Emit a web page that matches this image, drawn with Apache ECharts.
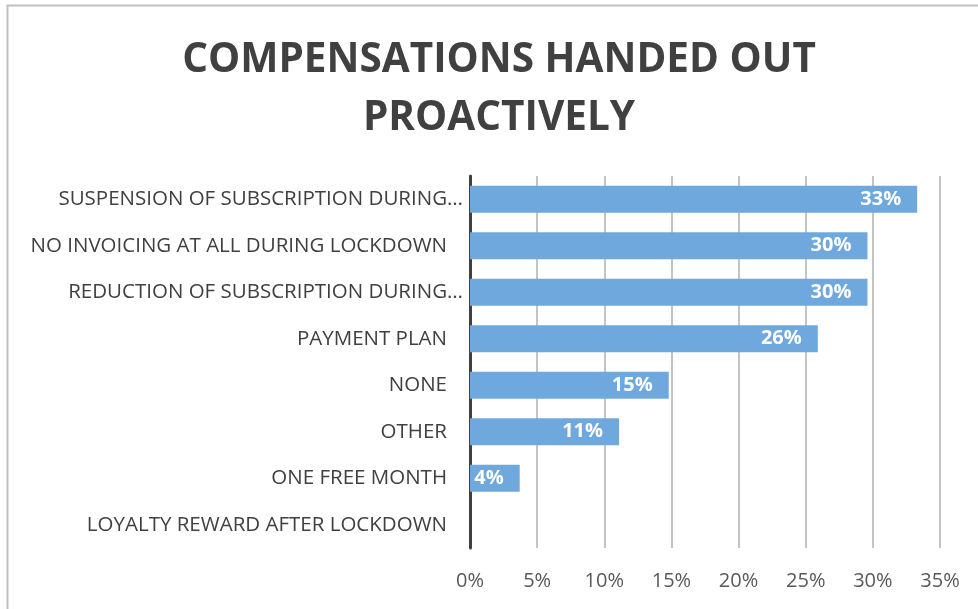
<!DOCTYPE html>
<html>
<head>
<meta charset="utf-8">
<script src="https://cdn.jsdelivr.net/npm/echarts@6/dist/echarts.min.js"></script>
<style>
  html, body { margin: 0; padding: 0; background: #fff; }
  #chart { width: 978px; height: 609px; }
</style>
</head>
<body>
<div id="chart"></div>
<script>
// Compensation types, top to bottom
const categories = [
  'SUSPENSION OF SUBSCRIPTION DURING…',
  'NO INVOICING AT ALL DURING LOCKDOWN',
  'REDUCTION OF SUBSCRIPTION DURING…',
  'PAYMENT PLAN',
  'NONE',
  'OTHER',
  'ONE FREE MONTH',
  'LOYALTY REWARD AFTER LOCKDOWN'
];
// Share of respondents (fraction)
const shares = [0.333, 0.296, 0.296, 0.259, 0.148, 0.111, 0.037, 0];
// X axis scale
const axisMin = 0;
const axisMax = 0.35;
const axisStep = 0.05;

const FONT = '"Open Sans", "Noto Sans", sans-serif';
const chart = echarts.init(document.getElementById('chart'), null, { renderer: 'canvas' });

chart.setOption({
  animation: false,
  backgroundColor: '#ffffff',
  title: {
    text: 'COMPENSATIONS HANDED OUT\nPROACTIVELY',
    left: 494,
    textAlign: 'center',
    top: 26,
    textStyle: {
      fontFamily: FONT,
      fontSize: 40.5,
      fontWeight: 'bold',
      color: '#404040',
      lineHeight: 58
    }
  },
  graphic: [{
    type: 'rect',
    shape: { x: 7.5, y: 5.5, width: 1000, height: 700 },
    style: { fill: 'none', stroke: '#bfbfbf', lineWidth: 2 },
    silent: true
  }],
  grid: { left: 470, right: 38, top: 176, bottom: 61 },
  xAxis: {
    type: 'value',
    min: axisMin,
    max: axisMax,
    interval: axisStep,
    axisLine: { show: false },
    axisTick: { show: false },
    splitLine: { show: true, lineStyle: { color: '#c4c4c4', width: 2 } },
    axisLabel: {
      margin: 23,
      fontFamily: FONT,
      fontSize: 20,
      color: '#595959',
      formatter: v => Math.round(v * 100) + '%'
    }
  },
  yAxis: {
    type: 'category',
    inverse: true,
    data: categories,
    axisLine: { show: true, lineStyle: { color: '#404040', width: 3 } },
    axisTick: { show: false },
    splitLine: { show: false },
    axisLabel: {
      margin: 7,
      formatter: v => v.endsWith('…') ? '{e|' + v + '}' : '{n|' + v + '}',
      rich: {
        e: { fontFamily: FONT, fontSize: 20.5, color: '#404040' },
        n: { fontFamily: FONT, fontSize: 20.5, color: '#404040', padding: [0, 16, 0, 0] }
      }
    }
  },
  series: [{
    type: 'bar',
    data: shares,
    barWidth: 27,
    itemStyle: { color: '#6fa8dc', borderWidth: 0 },
    label: {
      show: true,
      position: 'insideRight',
      distance: 16,
      fontFamily: FONT,
      fontSize: 20,
      fontWeight: 'bold',
      color: '#ffffff',
      formatter: p => p.value > 0 ? Math.round(p.value * 100) + '%' : ''
    }
  }]
});
</script>
</body>
</html>
